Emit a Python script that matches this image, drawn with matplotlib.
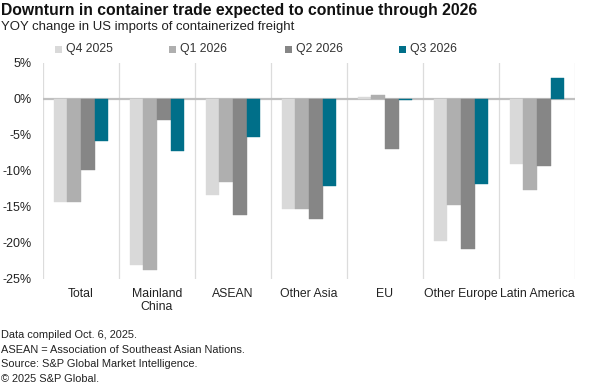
import matplotlib
matplotlib.use("Agg")
import matplotlib.pyplot as plt
import numpy as np
from matplotlib.patches import Rectangle

categories = ["Total", "Mainland\nChina", "ASEAN", "Other Asia", "EU", "Other Europe", "Latin America"]
series_names = ["Q4 2025", "Q1 2026", "Q2 2026", "Q3 2026"]
q4_2025 = [-14.3, -23.1, -13.3, -15.3, 0.3, -19.7, -9.0]
q1_2026 = [-14.3, -23.8, -11.5, -15.3, 0.6, -14.8, -12.7]
q2_2026 = [-9.9, -2.9, -16.2, -16.7, -7.0, -20.9, -9.3]
q3_2026 = [-5.9, -7.2, -5.3, -12.1, -0.2, -11.8, 2.9]
yticks = [5, 0, -5, -10, -15, -20, -25]
ytick_labels = ["5%", "0%", "-5%", "-10%", "-15%", "-20%", "-25%"]

colors = ["#d9d9d9", "#afafaf", "#868686", "#006f89"]
series = [q4_2025, q1_2026, q2_2026, q3_2026]

plt.rcParams["font.family"] = ["Liberation Sans", "DejaVu Sans"]

W, H = 600, 386
fig = plt.figure(figsize=(6, 3.86), dpi=100)
ax = fig.add_axes([43 / W, 1 - 278.7 / H, 532 / W, (278.7 - 63) / H])

x = np.arange(len(categories))
bw = 0.18
for k, (vals, c) in enumerate(zip(series, colors)):
    ax.bar(x + (k - 1.5) * bw, vals, width=bw, color=c, edgecolor=c, linewidth=0.3, zorder=3)

ax.set_xlim(-0.5, len(categories) - 0.5)
ax.set_ylim(-25, 5)
ax.set_yticks(yticks)
ax.set_yticklabels(ytick_labels, fontsize=9, color="#222222")
ax.set_xticks(x)
ax.set_xticklabels(categories, fontsize=8.8, color="#222222", linespacing=1.05)
ax.set_xticks(np.arange(-0.5, len(categories) + 0.5, 1), minor=True)
ax.tick_params(axis="both", which="both", length=0)
ax.tick_params(axis="y", pad=8)
ax.tick_params(axis="x", pad=7)
ax.grid(axis="x", which="minor", color="#dcdcdc", linewidth=0.9, zorder=0)
ax.grid(axis="x", which="major", visible=False)
ax.axhline(0, color="#c0c0c0", linewidth=1.6, zorder=2)
for s in ax.spines.values():
    s.set_visible(False)

fig.text(1 / W, 1 - 10.5 / H, "Downturn in container trade expected to continue through 2026",
         fontsize=11.3, fontweight="bold", color="#111111", va="center", ha="left")
fig.text(1 / W, 1 - 27 / H, "YOY change in US imports of containerized freight",
         fontsize=9.45, color="#222222", va="center", ha="left")

leg_x = [55, 169, 285, 399]
for name, c, lx in zip(series_names, colors, leg_x):
    fig.patches.append(Rectangle((lx / W, 1 - 52.5 / H), 7 / W, 7 / H,
                                 transform=fig.transFigure, facecolor=c, edgecolor="none"))
    fig.text((lx + 11) / W, 1 - 49 / H, name, fontsize=8.8, color="#333333",
             va="center", ha="left")

footer = ["Data compiled Oct. 6, 2025.",
          "ASEAN = Association of Southeast Asian Nations.",
          "Source: S&P Global Market Intelligence.",
          "\u00a9 2025 S&P Global."]
for i, line in enumerate(footer):
    fig.text(1 / W, 1 - (335 + i * 14.7) / H, line, fontsize=7.9, color="#222222",
             va="center", ha="left")

fig.savefig("out.png", dpi=100, facecolor="white")
